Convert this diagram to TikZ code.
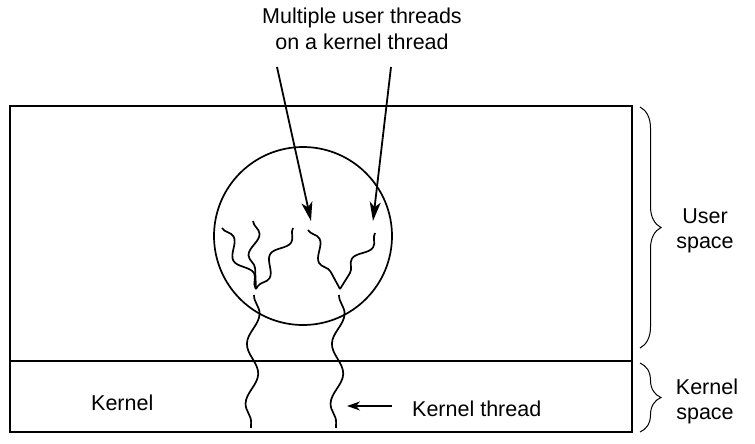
\documentclass[tikz,border=0pt]{standalone}
\usepackage{fontspec}
\setmainfont{Liberation Sans}
\usetikzlibrary{arrows.meta,decorations.pathmorphing,decorations.pathreplacing}
\begin{document}
\begin{tikzpicture}[x=1pt,y=-1pt,
  frame/.style={line width=1.9pt},
  wavy/.style={line width=1.7pt,decorate,decoration={snake,amplitude=6pt,segment length=60pt}},
  uwavy/.style={line width=1.7pt,decorate,decoration={snake,amplitude=6pt,segment length=42pt}},
  pointer/.style={line width=1.8pt,-{Stealth[length=19pt,width=11pt,inset=5pt]}},
  brace/.style={line width=1pt,decorate,decoration={brace,amplitude=21pt}},
  lbl/.style={font=\fontsize{21.5}{25}\selectfont,inner sep=0pt}]
\useasboundingbox (0,0) rectangle (755,444);

% address space: user part above, kernel part below
\draw[frame] (10,106) rectangle (632,432);
\draw[frame] (10,361) -- (632,361);
\node[draw,circle,line width=1.7pt,minimum size=178pt,inner sep=0pt] (proc) at (303,236) {};

% user threads, joining two points
\coordinate (j1) at (256,289);
\coordinate (j2) at (340,289);
\coordinate (u1) at (222,228);
\coordinate (u2) at (253,221);
\coordinate (u3) at (293,228);
\coordinate (u4) at (308,230);
\coordinate (u5) at (375,233);
\draw[uwavy] (u1) -- (j1);
\draw[uwavy] (u2) -- (j1);
\draw[uwavy] (u3) -- (j1);
\draw[uwavy] (u4) -- (j2);
\draw[uwavy] (u5) -- (j2);

% kernel threads
\coordinate (k1t) at (254,295);
\coordinate (k1b) at (251,428);
\coordinate (k2t) at (339,295);
\coordinate (k2b) at (336,428);
\draw[wavy] (k1t) -- (k1b);
\draw[wavy] (k2t) -- (k2b);

% caption with its two pointers
\node[lbl,anchor=base] (title1) at (362,24) {Multiple user threads};
\node[lbl,anchor=base] (title2) at (362,49) {on a kernel thread};
\coordinate (a1s) at (277,67);
\coordinate (a1e) at (311,221);
\coordinate (a2s) at (391,67);
\coordinate (a2e) at (373,221);
\draw[pointer] (a1s) -- (a1e);
\draw[pointer] (a2s) -- (a2e);

% labels inside the kernel part
\node[lbl,anchor=base west] (kern) at (91,410) {Kernel};
\node[lbl,anchor=base west] (kth) at (412,416) {Kernel thread};
\coordinate (ktt) at (392,406);
\coordinate (kta) at (347,406);
\draw[line width=1.8pt,-{Stealth[length=13pt,width=9pt,inset=4pt]}] (ktt) -- (kta);

% braces and space labels
\draw[brace] (640,107) -- (640,348);
\draw[brace] (640,363) -- (640,432);
\node[lbl,anchor=base] (us1) at (705,223) {User};
\node[lbl,anchor=base] (us2) at (705,248) {space};
\node[lbl,anchor=base] (ks1) at (707,394) {Kernel};
\node[lbl,anchor=base] (ks2) at (705,419) {space};
\end{tikzpicture}
\end{document}
